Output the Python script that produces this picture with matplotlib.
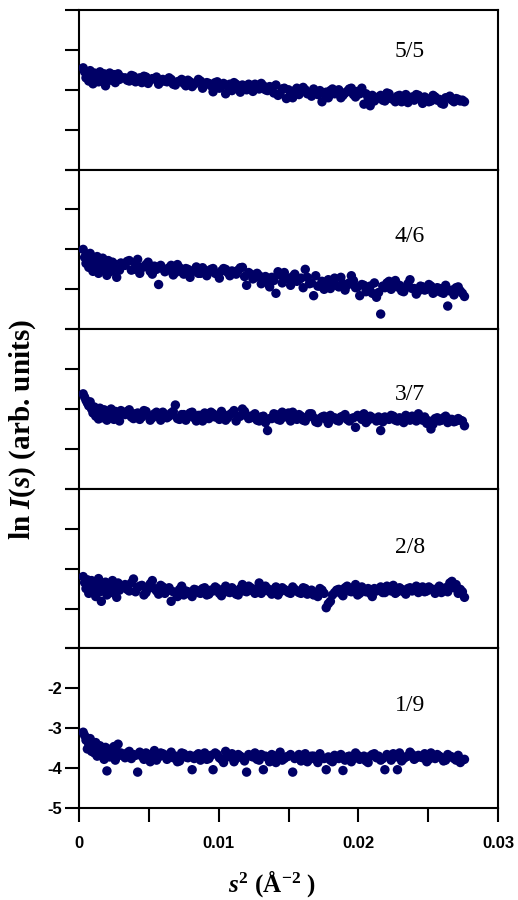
import numpy as np
import matplotlib
matplotlib.use("Agg")
import matplotlib.pyplot as plt

plt.rcParams['mathtext.fontset'] = 'custom'
plt.rcParams['mathtext.rm'] = 'Liberation Serif:bold'
plt.rcParams['mathtext.it'] = 'Liberation Serif:bold:italic'
plt.rcParams['mathtext.bf'] = 'Liberation Serif:bold'

# s^2 values (A^-2), shared by all curves
s2 = [0.0003, 0.0004, 0.0005, 0.0006, 0.0007, 0.0008, 0.0009, 0.0010, 0.0011, 0.0012,
      0.0013, 0.0014, 0.0015, 0.0016, 0.0017, 0.0018, 0.0019, 0.0020, 0.0021, 0.0022,
      0.0023, 0.0024, 0.0025, 0.0026, 0.0027, 0.0028, 0.0029, 0.0030,
      0.0033, 0.0036, 0.0039, 0.0042, 0.0045, 0.0048, 0.0051, 0.0054, 0.0057, 0.0060,
      0.0063, 0.0066, 0.0069, 0.0072, 0.0075, 0.0078, 0.0081, 0.0084, 0.0087, 0.0090,
      0.0093, 0.0096, 0.0099, 0.0102, 0.0105, 0.0108, 0.0111, 0.0114, 0.0117, 0.0120,
      0.0123, 0.0126, 0.0129, 0.0132, 0.0135, 0.0138, 0.0141, 0.0144, 0.0147, 0.0150,
      0.0153, 0.0156, 0.0159, 0.0162, 0.0165, 0.0168, 0.0171, 0.0174, 0.0177, 0.0180,
      0.0183, 0.0186, 0.0189, 0.0192, 0.0195, 0.0198, 0.0201, 0.0204, 0.0207, 0.0210,
      0.0213, 0.0216, 0.0219, 0.0222, 0.0225, 0.0228, 0.0231, 0.0234, 0.0237, 0.0240,
      0.0243, 0.0246, 0.0249, 0.0252, 0.0255, 0.0258, 0.0261, 0.0264, 0.0267, 0.0270,
      0.0273, 0.0276]

# second (interleaved) set of s^2 points
s2_mid = [0.00345, 0.00375, 0.00405, 0.00435, 0.00465, 0.00495, 0.00525, 0.00555, 0.00585, 0.00615,
          0.00645, 0.00675, 0.00705, 0.00735, 0.00765, 0.00795, 0.00825, 0.00855, 0.00885, 0.00915,
          0.00945, 0.00975, 0.01005, 0.01035, 0.01065, 0.01095, 0.01125, 0.01155, 0.01185, 0.01215,
          0.01245, 0.01275, 0.01305, 0.01335, 0.01365, 0.01395, 0.01425, 0.01455, 0.01485, 0.01515,
          0.01545, 0.01575, 0.01605, 0.01635, 0.01665, 0.01695, 0.01725, 0.01755, 0.01785, 0.01815,
          0.01845, 0.01875, 0.01905, 0.01935, 0.01965, 0.01995, 0.02025, 0.02055, 0.02085, 0.02115,
          0.02145, 0.02175, 0.02205, 0.02235, 0.02265, 0.02295, 0.02325, 0.02355, 0.02385, 0.02415,
          0.02445, 0.02475, 0.02505, 0.02535, 0.02565, 0.02595, 0.02625, 0.02655, 0.02685, 0.02715,
          0.02745]

# ln I(s) for each ratio (top panel first)
lnI_55 = [-2.45, -2.55, -2.70, -2.60, -2.78, -2.52, -2.66, -2.85, -2.58, -2.72,
          -2.62, -2.80, -2.55, -2.68, -2.74, -2.60, -2.90, -2.65, -2.70, -2.58,
          -2.76, -2.66, -2.62, -2.82, -2.70, -2.60, -2.74, -2.68,
          -2.70, -2.78, -2.66, -2.74, -2.82, -2.68, -2.76, -2.72, -2.86, -2.74,
          -2.80, -2.74, -2.88, -2.78, -2.84, -2.76, -2.92, -2.82, -2.78, -2.86,
          -2.84, -3.05, -2.80, -2.90, -3.10, -2.86, -2.82, -2.94, -2.88, -3.00,
          -2.92, -2.86, -2.98, -2.90, -3.02, -2.94, -2.88, -3.10, -2.96, -3.00,
          -3.20, -2.96, -3.04, -3.00, -3.08, -2.98, -3.12, -3.30, -3.06, -3.02,
          -3.10, -3.00, -3.14, -3.04, -2.96, -3.18, -3.10, -3.36, -3.20, -3.14,
          -3.22, -3.14, -3.28, -3.10, -3.24, -3.16, -3.30, -3.12, -3.20, -3.26,
          -3.14, -3.34, -3.22, -3.28, -3.18, -3.24, -3.36, -3.20, -3.26, -3.22,
          -3.28, -3.30]
lnI_46 = [-3.00, -3.20, -3.35, -3.15, -3.45, -3.10, -3.30, -3.55, -3.25, -3.40,
          -3.18, -3.60, -3.30, -3.45, -3.22, -3.50, -3.35, -3.65, -3.28, -3.42,
          -3.55, -3.32, -3.48, -3.38, -3.70, -3.40, -3.52, -3.34,
          -3.40, -3.28, -3.50, -3.25, -3.45, -3.38, -3.55, -3.42, -3.88, -3.48,
          -3.52, -3.40, -3.58, -3.46, -3.62, -3.50, -3.56, -3.44, -3.60, -3.52,
          -3.56, -3.48, -3.62, -3.54, -3.50, -3.66, -3.56, -3.52, -3.45, -3.90,
          -3.62, -3.70, -3.66, -3.76, -3.82, -3.70, -4.10, -3.64, -3.58, -3.74,
          -3.68, -3.80, -3.72, -3.50, -3.86, -4.16, -3.92, -3.80, -3.88, -3.98,
          -3.72, -3.94, -3.86, -3.90, -3.66, -3.96, -4.16, -3.90, -3.98, -4.10,
          -4.20, -4.62, -3.96, -3.80, -3.88, -3.94, -4.04, -3.96, -3.76, -3.98,
          -4.04, -3.94, -4.00, -3.92, -4.06, -3.98, -4.10, -4.42, -4.02, -3.96,
          -4.04, -4.18]
lnI_37 = [-2.62, -2.70, -2.78, -2.85, -2.92, -2.82, -3.00, -3.10, -2.95, -3.18,
          -3.05, -3.25, -2.98, -3.12, -3.22, -3.02, -3.15, -3.28, -3.08, -3.20,
          -3.00, -3.14, -3.26, -3.06, -3.18, -3.10, -3.30, -3.04,
          -3.14, -3.02, -3.24, -3.10, -3.20, -3.06, -3.28, -3.12, -3.18, -3.08,
          -3.22, -3.10, -2.90, -3.26, -3.14, -3.20, -3.08, -3.30, -3.16, -3.10,
          -3.24, -3.12, -3.18, -3.06, -3.28, -3.14, -3.04, -3.20, -3.00, -3.16,
          -3.22, -3.12, -3.30, -3.18, -3.54, -3.24, -3.14, -3.28, -3.20, -3.10,
          -3.08, -3.26, -3.18, -3.30, -3.12, -3.22, -3.34, -3.20, -3.26, -3.16,
          -3.22, -3.30, -3.18, -3.26, -3.24, -3.46, -3.20, -3.12, -3.28, -3.22,
          -3.30, -3.54, -3.20, -3.26, -3.18, -3.30, -3.24, -3.16, -3.28, -3.22,
          -3.12, -3.28, -3.36, -3.50, -3.24, -3.30, -3.22, -3.34, -3.26, -3.30,
          -3.28, -3.42]
lnI_28 = [-3.20, -3.35, -3.50, -3.28, -3.62, -3.40, -3.30, -3.55, -3.45, -3.70,
          -3.38, -3.25, -3.58, -3.82, -3.42, -3.52, -3.34, -3.66, -3.46, -3.40,
          -3.60, -3.30, -3.50, -3.44, -3.72, -3.36, -3.54, -3.48,
          -3.40, -3.56, -3.26, -3.48, -3.42, -3.60, -3.38, -3.50, -3.64, -3.46,
          -3.56, -3.82, -3.60, -3.52, -3.66, -3.58, -3.70, -3.54, -3.62, -3.48,
          -3.64, -3.56, -3.50, -3.68, -3.44, -3.60, -3.54, -3.66, -3.40, -3.58,
          -3.48, -3.62, -3.36, -3.56, -3.50, -3.64, -3.46, -3.58, -3.52, -3.60,
          -3.46, -3.56, -3.62, -3.50, -3.58, -3.66, -3.70, -3.54, -3.98, -3.82,
          -3.60, -3.52, -3.68, -3.44, -3.58, -3.40, -3.62, -3.54, -3.50, -3.70,
          -3.56, -3.46, -3.60, -3.50, -3.42, -3.58, -3.52, -3.64, -3.48, -3.54,
          -3.60, -3.46, -3.56, -3.50, -3.62, -3.44, -3.54, -3.58, -3.32, -3.40,
          -3.52, -3.72]
lnI_19 = [-3.10, -3.18, -3.30, -3.52, -3.40, -3.26, -3.58, -3.45, -3.62, -3.36,
          -3.70, -3.50, -3.44, -3.66, -3.55, -3.78, -3.48, -4.07, -3.60, -3.72,
          -3.52, -3.64, -3.46, -3.80, -3.58, -3.40, -3.68, -3.62,
          -3.74, -3.58, -3.66, -4.10, -3.70, -3.62, -3.84, -3.56, -3.72, -3.64,
          -3.78, -3.60, -3.70, -3.82, -3.64, -3.74, -4.04, -3.68, -3.80, -3.62,
          -3.76, -4.04, -3.66, -3.78, -3.58, -3.72, -3.84, -3.66, -3.74, -4.10,
          -3.70, -3.62, -3.80, -4.04, -3.74, -3.66, -3.86, -3.60, -3.76, -3.70,
          -4.10, -3.72, -3.82, -3.64, -3.78, -3.70, -3.86, -3.74, -4.04, -3.80,
          -3.68, -3.76, -4.06, -3.72, -3.84, -3.62, -3.78, -3.70, -3.86, -3.66,
          -3.74, -3.80, -4.04, -3.70, -3.64, -4.04, -3.82, -3.72, -3.60, -3.78,
          -3.68, -3.74, -3.84, -3.62, -3.76, -3.70, -3.82, -3.66, -3.72, -3.80,
          -3.86, -3.78]

# values at the interleaved s^2 points
lnI_55_mid = [-2.76, -2.64, -2.80, -2.70, -2.66, -2.84, -2.72, -2.68, -2.80, -2.78,
              -2.70, -2.86, -2.80, -2.74, -2.90, -2.80, -2.86, -2.74, -2.96, -2.82,
              -2.90, -2.82, -2.96, -2.84, -2.92, -3.02, -2.86, -3.06, -2.92, -2.86,
              -3.04, -2.94, -2.84, -3.00, -2.92, -3.08, -3.14, -2.98, -3.22, -3.06,
              -3.02, -3.12, -2.94, -3.10, -3.16, -3.04, -3.02, -3.10, -3.20, -2.98,
              -3.06, -3.20, -3.08, -2.98, -3.12, -3.04, -2.96, -3.10, -3.40, -3.28,
              -3.18, -3.26, -3.08, -3.22, -3.30, -3.14, -3.20, -3.32, -3.18, -3.12,
              -3.24, -3.18, -3.30, -3.14, -3.26, -3.34, -3.20, -3.16, -3.30, -3.24,
              -3.26]
lnI_46_mid = [-3.30, -3.52, -3.36, -3.60, -3.44, -3.32, -3.62, -3.50, -3.40, -3.56,
              -3.46, -3.64, -3.38, -3.56, -3.48, -3.70, -3.52, -3.60, -3.46, -3.66,
              -3.50, -3.60, -3.72, -3.48, -3.58, -3.54, -3.62, -3.46, -3.68, -3.58,
              -3.74, -3.60, -3.86, -3.68, -3.94, -3.78, -3.56, -3.84, -3.72, -3.90,
              -3.62, -3.76, -3.96, -3.70, -3.84, -3.66, -3.92, -4.00, -3.76, -3.86,
              -3.90, -3.70, -4.02, -3.84, -3.78, -3.94, -3.88, -4.06, -3.92, -3.84,
              -4.08, -3.92, -3.84, -4.00, -3.78, -3.90, -4.06, -3.86, -3.98, -4.12,
              -3.92, -4.02, -3.88, -4.10, -3.96, -4.08, -3.90, -4.04, -4.14, -3.94,
              -4.10]
lnI_37_mid = [-3.06, -3.20, -3.12, -3.26, -3.04, -3.16, -3.22, -3.08, -3.28, -3.14,
              -3.18, -3.06, -3.24, -3.14, -3.28, -3.10, -3.22, -3.16, -3.30, -3.12,
              -3.08, -3.20, -3.26, -3.14, -3.22, -3.10, -3.30, -3.18, -3.06, -3.24,
              -3.16, -3.28, -3.20, -3.34, -3.24, -3.12, -3.26, -3.08, -3.18, -3.30,
              -3.22, -3.14, -3.28, -3.20, -3.12, -3.32, -3.24, -3.18, -3.36, -3.22,
              -3.28, -3.20, -3.14, -3.30, -3.22, -3.16, -3.26, -3.34, -3.18, -3.24,
              -3.20, -3.32, -3.24, -3.16, -3.28, -3.22, -3.34, -3.26, -3.18, -3.30,
              -3.24, -3.20, -3.30, -3.38, -3.22, -3.28, -3.18, -3.26, -3.32, -3.24,
              -3.30]
lnI_28_mid = [-3.52, -3.36, -3.58, -3.44, -3.66, -3.50, -3.30, -3.56, -3.42, -3.62,
              -3.48, -3.58, -3.70, -3.44, -3.56, -3.64, -3.52, -3.60, -3.50, -3.66,
              -3.54, -3.46, -3.62, -3.52, -3.58, -3.48, -3.64, -3.50, -3.56, -3.44,
              -3.56, -3.50, -3.62, -3.44, -3.58, -3.52, -3.66, -3.48, -3.56, -3.62,
              -3.52, -3.60, -3.48, -3.64, -3.54, -3.60, -3.50, -3.62, -3.88, -3.66,
              -3.54, -3.62, -3.48, -3.56, -3.52, -3.66, -3.46, -3.58, -3.62, -3.50,
              -3.52, -3.60, -3.44, -3.56, -3.62, -3.48, -3.58, -3.50, -3.56, -3.44,
              -3.52, -3.58, -3.46, -3.54, -3.50, -3.60, -3.48, -3.36, -3.48, -3.62,
              -3.58]
lnI_19_mid = [-3.62, -3.76, -3.68, -3.60, -3.78, -3.66, -3.72, -3.80, -3.62, -3.70,
              -3.66, -3.74, -3.84, -3.62, -3.72, -3.68, -3.76, -3.64, -3.70, -3.78,
              -3.68, -3.62, -3.74, -3.86, -3.70, -3.64, -3.76, -3.70, -3.82, -3.66,
              -3.72, -3.78, -3.66, -3.70, -3.84, -3.74, -3.68, -3.80, -3.72, -3.66,
              -3.76, -3.66, -3.74, -3.84, -3.70, -3.78, -3.64, -3.76, -3.72, -3.84,
              -3.74, -3.66, -3.80, -3.70, -3.76, -3.68, -3.74, -3.82, -3.70, -3.64,
              -3.70, -3.76, -3.66, -3.80, -3.72, -3.62, -3.76, -3.70, -3.66, -3.74,
              -3.72, -3.64, -3.78, -3.70, -3.66, -3.74, -3.80, -3.70, -3.76, -3.68,
              -3.80]

ratios = ["5/5", "4/6", "3/7", "2/8", "1/9"]
curves = [lnI_55, lnI_46, lnI_37, lnI_28, lnI_19]
curves_mid = [lnI_55_mid, lnI_46_mid, lnI_37_mid, lnI_28_mid, lnI_19_mid]

yticks = [-5, -4, -3, -2, -1]
ytick_labels = ["-5", "-4", "-3", "-2", ""]
xticks = [0, 0.005, 0.01, 0.015, 0.02, 0.025, 0.03]
xtick_labels = ["0", "", "0.01", "", "0.02", "", "0.03"]

label_pos_y = [0.74, 0.58, 0.59, 0.63, 0.64]
dot_color = "#000066"

fig, axes = plt.subplots(5, 1, figsize=(5.18, 9.0), dpi=100, sharex=True)
plt.subplots_adjust(left=0.1525, right=0.9614, top=0.9889, bottom=0.1022, hspace=0)

for i, ax in enumerate(axes):
    ax.scatter(s2, curves[i], s=46, color=dot_color, edgecolors="none", zorder=3)
    ax.scatter(s2_mid, curves_mid[i], s=46, color=dot_color, edgecolors="none", zorder=3)
    ax.set_xlim(0, 0.03)
    ax.set_ylim(-5, -1)
    ax.set_yticks(yticks)
    for sp in ax.spines.values():
        sp.set_linewidth(1.5)
    ax.tick_params(axis="y", direction="out", length=10, width=1.5, pad=2,
                   labelsize=12)
    ax.text(0.79, label_pos_y[i], ratios[i], transform=ax.transAxes,
            ha="center", va="center", fontsize=17, family="Liberation Serif")
    if i < 4:
        ax.tick_params(axis="y", labelleft=False)
        ax.tick_params(axis="x", bottom=False, labelbottom=False)

bottom = axes[-1]
bottom.set_yticklabels(ytick_labels, family="Liberation Sans", fontweight="bold")
bottom.set_xticks(xticks)
bottom.set_xticklabels(xtick_labels, family="Liberation Sans", fontweight="bold")
bottom.tick_params(axis="x", direction="out", length=10, width=1.5, pad=10,
                   labelsize=12)

fig.text(0.043, 0.523, "ln $I$($s$) (arb. units)", rotation=90, ha="center", va="center",
         fontsize=21, family="Liberation Serif", fontweight="bold")
fig.text(0.524, 0.018, "$s^2$ (Å$^{-2}$ )", ha="center", va="center",
         fontsize=18, family="Liberation Serif", fontweight="bold")

fig.savefig("out.png", dpi=100)
